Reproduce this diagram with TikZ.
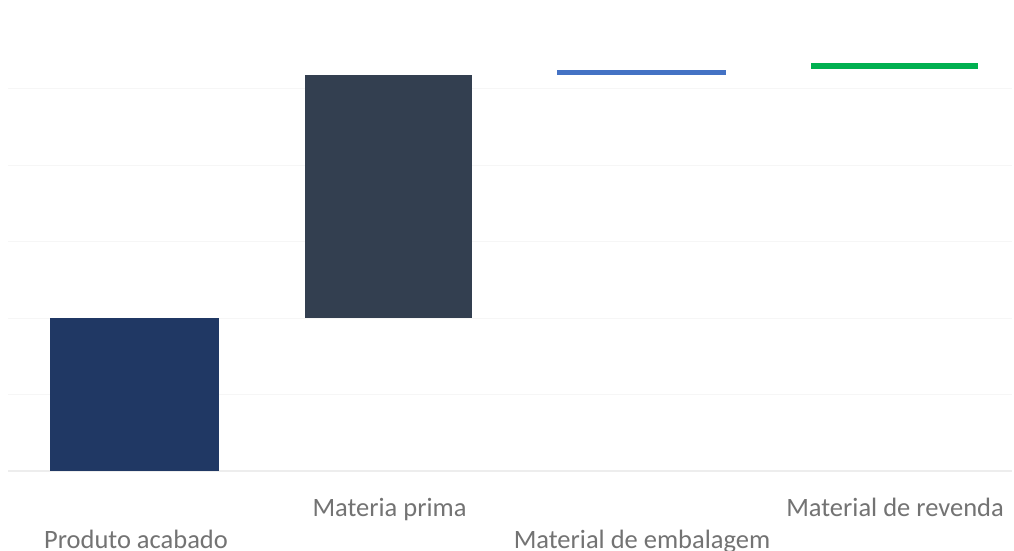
\documentclass[tikz,border=0pt]{standalone}
\usepackage{fontspec}
\setmainfont{Carlito}
\definecolor{gridc}{HTML}{F6F6F6}
\definecolor{axisc}{HTML}{EDEDED}
\definecolor{labc}{HTML}{737373}
\definecolor{barA}{HTML}{203864}
\definecolor{barB}{HTML}{333F50}
\definecolor{barC}{HTML}{4472C4}
\definecolor{barD}{HTML}{00B050}
\begin{document}
\begin{tikzpicture}[x=1pt,y=-1pt,
  grid/.style={draw=gridc,line width=1pt},
  lab/.style={text=labc,font=\fontsize{26.5}{30}\selectfont,inner sep=0pt,anchor=base}]
\useasboundingbox (0,0) rectangle (1014,551);
\fill[white] (0,0) rectangle (1014,551);
\foreach \y in {88,165,241,318,394} \draw[grid] (8,\y) -- (1012,\y);
\draw[draw=axisc,line width=1.2pt] (8,471) -- (1012,471);
\fill[barA] (50,318) rectangle (219,471);
\fill[barB] (305,75) rectangle (472,318);
\fill[barC] (557,70) rectangle (726,75);
\fill[barD] (811,63) rectangle (978,69);
\node[lab] (pa) at (136,548) {Produto acabado};
\node[lab] (mp) at (389.5,516) {Materia prima};
\node[lab] (me) at (642,548) {Material de embalagem};
\node[lab] (mr) at (895,516) {Material de revenda};
\end{tikzpicture}
\end{document}
